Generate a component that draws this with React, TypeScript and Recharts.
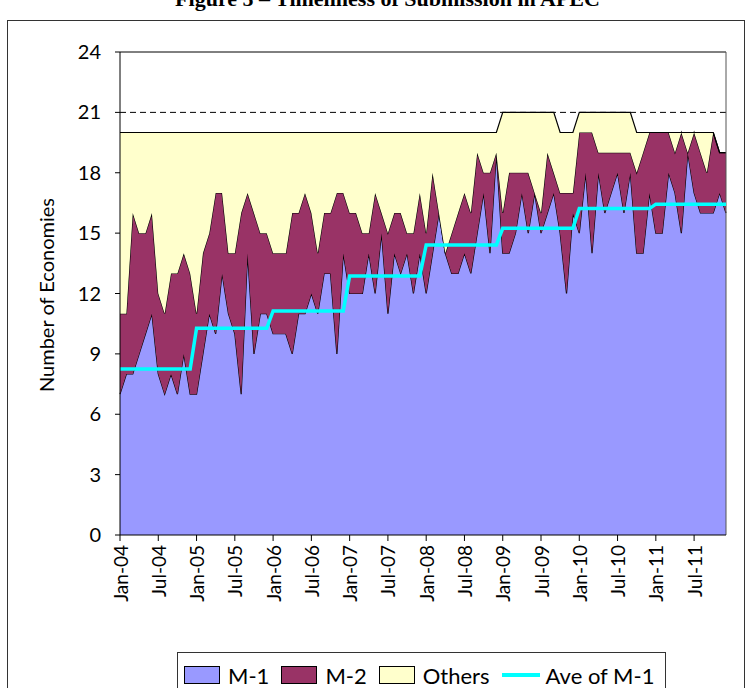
import React from "react";
import { Area, ComposedChart, Label, Line, ReferenceLine, XAxis, YAxis } from "recharts";

const years = ["04", "05", "06", "07", "08", "09", "10", "11"];
const monthNames = ["Jan", "Feb", "Mar", "Apr", "May", "Jun", "Jul", "Aug", "Sep", "Oct", "Nov", "Dec"];
const tickLabels = [
  "Jan-04", "Jul-04", "Jan-05", "Jul-05", "Jan-06", "Jul-06", "Jan-07", "Jul-07",
  "Jan-08", "Jul-08", "Jan-09", "Jul-09", "Jan-10", "Jul-10", "Jan-11", "Jul-11",
];

// monthly counts, Jan-04 .. Dec-11
const m1 = [
  7, 8, 8, 9, 10, 11, 8, 7, 8, 7, 9, 7,
  7, 9, 11, 10, 13, 11, 10, 7, 14, 9, 11, 11,
  10, 10, 10, 9, 11, 11, 12, 11, 13, 13, 9, 14,
  12, 12, 12, 14, 12, 15, 11, 14, 13, 14, 12, 14,
  12, 14, 16, 14, 13, 13, 14, 13, 15, 17, 14, 19,
  14, 14, 15, 17, 15, 17, 15, 16, 17, 15, 12, 16,
  15, 18, 14, 18, 16, 17, 18, 16, 18, 14, 14, 17,
  15, 15, 18, 17, 15, 19, 17, 16, 16, 16, 17, 16,
];
const m2 = [
  4, 3, 8, 6, 5, 5, 4, 4, 5, 6, 5, 6,
  4, 5, 4, 7, 4, 3, 4, 9, 3, 7, 4, 4,
  4, 4, 4, 7, 5, 6, 4, 3, 3, 3, 8, 3,
  4, 4, 3, 1, 5, 1, 4, 2, 3, 1, 3, 3,
  3, 4, 0, 0, 2, 3, 3, 3, 4, 1, 4, 0,
  2, 4, 3, 1, 3, 0, 1, 3, 1, 2, 5, 1,
  5, 2, 6, 1, 3, 2, 1, 3, 1, 4, 5, 3,
  5, 5, 2, 2, 5, 0, 3, 3, 2, 4, 2, 3,
];
const others = [
  9, 9, 4, 5, 5, 4, 8, 9, 7, 7, 6, 7,
  9, 6, 5, 3, 3, 6, 6, 4, 3, 4, 5, 5,
  6, 6, 6, 4, 4, 3, 4, 6, 4, 4, 3, 3,
  4, 4, 5, 5, 3, 4, 5, 4, 4, 5, 5, 3,
  5, 2, 4, 6, 5, 4, 3, 4, 1, 2, 2, 1,
  5, 3, 3, 3, 3, 4, 5, 2, 3, 3, 3, 3,
  1, 1, 1, 2, 2, 2, 2, 2, 2, 2, 1, 0,
  0, 0, 0, 1, 0, 1, 0, 1, 2, 0, 0, 0,
];
const aveM1 = [8.25, 10.27, 11.13, 12.87, 14.41, 15.24, 16.22, 16.44];

const data = m1.map((v, i) => ({
  idx: i,
  month: `${monthNames[i % 12]}-${years[Math.floor(i / 12)]}`,
  m1: v,
  m2: m2[i],
  others: others[i],
  ave: aveM1[Math.floor(i / 12)],
}));
const tickIdx = tickLabels.map((_, k) => k * 6);

const FONT = "Lato, 'Liberation Sans', sans-serif";

function MonthTick({ x, y, payload }: any) {
  const label = tickLabels[tickIdx.indexOf(payload.value)] ?? "";
  return (
    <text
      x={x}
      y={y}
      transform={`rotate(-90 ${x} ${y})`}
      textAnchor="end"
      dominantBaseline="central"
      fontFamily={FONT}
      fontSize={19}
      fill="#000"
    >
      {label}
    </text>
  );
}

function Swatch({ color }: { color: string }) {
  return (
    <span
      style={{
        display: "inline-block",
        width: 34,
        height: 16,
        background: color,
        border: "1px solid #000",
        marginRight: 8,
        verticalAlign: "middle",
      }}
    />
  );
}

export default function App() {
  return (
    <div style={{ position: "absolute", left: 0, top: 0, width: 748, height: 688, overflow: "hidden", background: "#fff" }}>
      <div
        style={{
          position: "absolute",
          top: -12,
          left: 0,
          width: 775,
          textAlign: "center",
          fontFamily: "'Liberation Serif', serif",
          fontWeight: "bold",
          fontSize: 22,
          lineHeight: "22px",
        }}
      >
        Figure 5 – Timeliness of Submission in APEC
      </div>
      <div
        style={{
          position: "absolute",
          left: 7,
          top: 20,
          width: 736,
          height: 700,
          border: "1px solid #333",
        }}
      />
      <div style={{ position: "absolute", left: 0, top: 0 }}>
        <ComposedChart width={748} height={688} data={data} margin={{ top: 52, right: 22, bottom: 73, left: 0 }}>
          <XAxis
            dataKey="idx"
            type="number"
            domain={[0, 95]}
            ticks={tickIdx}
            interval={0}
            height={80}
            tickSize={6}
            tickMargin={4}
            tick={<MonthTick />}
            axisLine={{ stroke: "#000" }}
            tickLine={{ stroke: "#000" }}
          />
          <YAxis
            type="number"
            domain={[0, 24]}
            ticks={[0, 3, 6, 9, 12, 15, 18, 21, 24]}
            width={120}
            tickSize={5}
            tickMargin={14}
            tick={{ fill: "#000", fontFamily: FONT, fontSize: 20 }}
            axisLine={{ stroke: "#000" }}
            tickLine={{ stroke: "#000" }}
          >
            <Label
              content={() => (
                <text
                  x={46}
                  y={295}
                  transform="rotate(-90 46 295)"
                  textAnchor="middle"
                  dominantBaseline="central"
                  fontFamily={FONT}
                  fontSize={20}
                  fill="#000"
                >
                  Number of Economies
                </text>
              )}
            />
          </YAxis>
          <Area
            type="linear"
            dataKey="m1"
            stackId="1"
            stroke="#000"
            strokeWidth={1.2}
            fill="#9999FF"
            fillOpacity={1}
            dot={false}
            activeDot={false}
            isAnimationActive={false}
          />
          <Area
            type="linear"
            dataKey="m2"
            stackId="1"
            stroke="#000"
            strokeWidth={1.2}
            fill="#993366"
            fillOpacity={1}
            dot={false}
            activeDot={false}
            isAnimationActive={false}
          />
          <Area
            type="linear"
            dataKey="others"
            stackId="1"
            stroke="#000"
            strokeWidth={1.2}
            fill="#FFFFCC"
            fillOpacity={1}
            dot={false}
            activeDot={false}
            isAnimationActive={false}
          />
          <ReferenceLine y={21} stroke="#000" strokeDasharray="6 4" />
          <ReferenceLine y={24} stroke="#000" />
          <ReferenceLine x={95} stroke="#555" />
          <Line
            type="linear"
            dataKey="ave"
            stroke="#00FFFF"
            strokeWidth={3.5}
            dot={false}
            activeDot={false}
            isAnimationActive={false}
          />
        </ComposedChart>
      </div>
      <div
        style={{
          position: "absolute",
          left: 177,
          top: 652,
          width: 489,
          height: 50,
          border: "1px solid #333",
          fontFamily: FONT,
          fontSize: 22,
          whiteSpace: "nowrap",
          paddingLeft: 6,
          paddingTop: 6,
          boxSizing: "border-box",
        }}
      >
        <Swatch color="#9999FF" />
        <span style={{ marginRight: 12, verticalAlign: "middle" }}>M-1</span>
        <Swatch color="#993366" />
        <span style={{ marginRight: 12, verticalAlign: "middle" }}>M-2</span>
        <Swatch color="#FFFFCC" />
        <span style={{ marginRight: 12, verticalAlign: "middle" }}>Others</span>
        <span
          style={{
            display: "inline-block",
            width: 38,
            height: 4,
            background: "#00FFFF",
            marginRight: 6,
            verticalAlign: "middle",
          }}
        />
        <span style={{ verticalAlign: "middle" }}>Ave of M-1</span>
      </div>
    </div>
  );
}
